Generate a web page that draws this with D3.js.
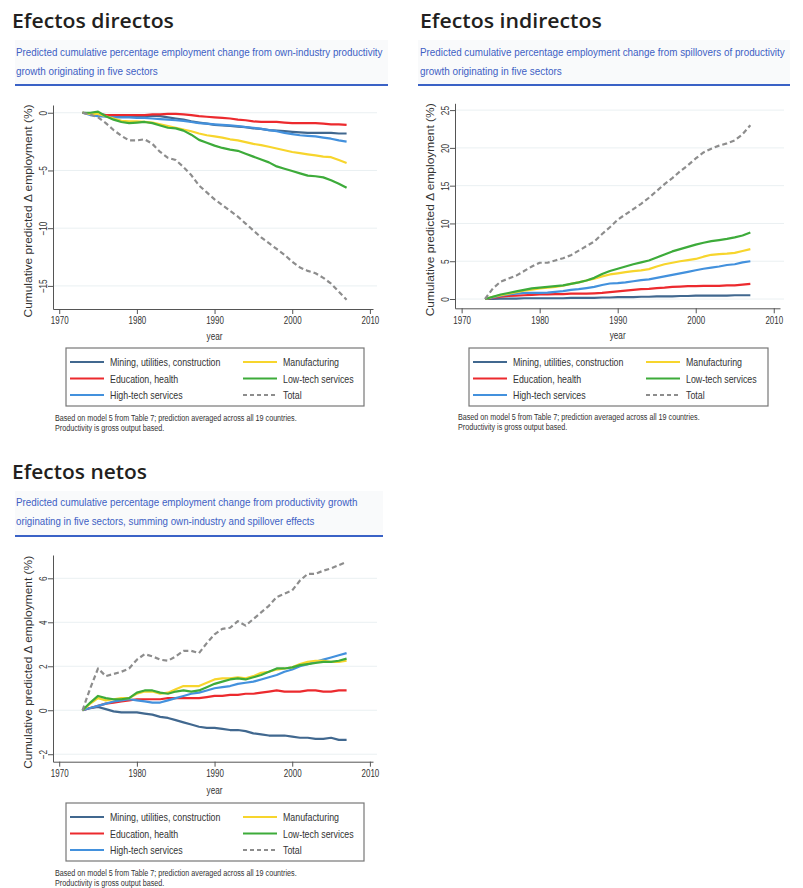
<!DOCTYPE html>
<html>
<head>
<meta charset="utf-8">
<script src="https://cdn.jsdelivr.net/npm/d3@7/dist/d3.min.js"></script>
<style>
  body { margin: 0; background: #fff; }
  svg { display: block; }
</style>
</head>
<body>
<svg id="chart" width="803" height="888"></svg>
<script>
// ---- data -------------------------------------------------------------
const years = [1973,1974,1975,1976,1977,1978,1979,1980,1981,1982,1983,1984,1985,1986,1987,1988,1989,1990,
               1991,1992,1993,1994,1995,1996,1997,1998,1999,2000,2001,2002,2003,2004,2005,2006,2007];

const seriesNames = ["Mining, utilities, construction", "Education, health", "High-tech services",
                     "Manufacturing", "Low-tech services", "Total"];
const seriesColors = ["#41688f", "#ec2a2e", "#4391dd", "#f7d52d", "#3dab3a", "#8d8d8d"];

const xTicks = [1970, 1980, 1990, 2000, 2010];

// Direct (own-industry) effects, % cumulative
const directMining = [0,-0.05,-0.1,-0.2,-0.25,-0.3,-0.3,-0.3,-0.3,-0.25,-0.3,-0.4,-0.5,-0.6,-0.75,-0.85,-0.95,-1.05,
  -1.1,-1.15,-1.2,-1.25,-1.35,-1.4,-1.5,-1.55,-1.6,-1.65,-1.7,-1.75,-1.75,-1.75,-1.75,-1.8,-1.8];
const directEducation = [0,-0.1,-0.15,-0.2,-0.2,-0.2,-0.2,-0.2,-0.2,-0.15,-0.15,-0.1,-0.1,-0.15,-0.2,-0.3,-0.35,-0.4,
  -0.45,-0.5,-0.6,-0.65,-0.75,-0.8,-0.8,-0.8,-0.85,-0.9,-0.9,-0.9,-0.9,-0.95,-1.0,-1.0,-1.05];
const directHighTech = [0,-0.2,-0.3,-0.35,-0.4,-0.4,-0.4,-0.45,-0.45,-0.5,-0.55,-0.6,-0.65,-0.7,-0.8,-0.9,-0.95,-1.0,
  -1.05,-1.1,-1.15,-1.25,-1.3,-1.4,-1.5,-1.6,-1.75,-1.85,-1.95,-2.0,-2.05,-2.15,-2.25,-2.4,-2.5];
const directManufacturing = [0,-0.1,-0.1,-0.3,-0.5,-0.7,-0.75,-0.75,-0.8,-0.85,-1.0,-1.15,-1.3,-1.45,-1.6,-1.8,-1.95,-2.05,
  -2.15,-2.3,-2.4,-2.55,-2.7,-2.8,-2.95,-3.1,-3.25,-3.4,-3.5,-3.6,-3.7,-3.8,-3.85,-4.1,-4.35];
const directLowTech = [0,0,0.1,-0.3,-0.6,-0.8,-0.9,-0.85,-0.8,-0.9,-1.1,-1.3,-1.35,-1.55,-1.9,-2.35,-2.6,-2.85,
  -3.05,-3.2,-3.3,-3.55,-3.8,-4.05,-4.3,-4.65,-4.85,-5.05,-5.25,-5.45,-5.5,-5.6,-5.85,-6.15,-6.5];
const directTotal = [0,-0.15,-0.4,-0.9,-1.5,-2.0,-2.4,-2.4,-2.3,-2.7,-3.4,-3.9,-4.1,-4.7,-5.4,-6.3,-6.9,-7.5,
  -8.0,-8.5,-9.0,-9.6,-10.2,-10.8,-11.3,-11.8,-12.3,-12.9,-13.4,-13.7,-13.9,-14.3,-14.8,-15.5,-16.2];

// Indirect (spillover) effects, % cumulative
const indirectMining = [0,0,0.05,0.05,0.05,0.1,0.1,0.1,0.1,0.1,0.1,0.15,0.15,0.15,0.15,0.2,0.2,0.25,
  0.25,0.25,0.3,0.3,0.35,0.35,0.35,0.4,0.4,0.45,0.45,0.45,0.45,0.45,0.5,0.5,0.5];
const indirectEducation = [0,0.15,0.3,0.4,0.45,0.5,0.55,0.6,0.6,0.65,0.65,0.7,0.7,0.7,0.75,0.8,0.9,1.0,
  1.1,1.2,1.3,1.35,1.45,1.5,1.6,1.65,1.7,1.7,1.75,1.75,1.75,1.8,1.8,1.9,2.0];
const indirectHighTech = [0,0.2,0.45,0.6,0.7,0.8,0.8,0.8,0.85,0.95,1.05,1.2,1.3,1.45,1.6,1.85,2.05,2.1,
  2.2,2.35,2.5,2.6,2.8,3.0,3.2,3.4,3.6,3.8,4.0,4.15,4.3,4.5,4.6,4.85,5.0];
const indirectManufacturing = [0,0.3,0.5,0.7,0.9,1.1,1.25,1.4,1.5,1.6,1.75,2.0,2.2,2.45,2.7,3.0,3.25,3.4,
  3.55,3.7,3.8,3.95,4.3,4.6,4.8,5.0,5.15,5.3,5.6,5.85,5.95,6.0,6.1,6.35,6.6];
const indirectLowTech = [0,0.3,0.6,0.8,1.0,1.2,1.4,1.5,1.6,1.7,1.8,2.0,2.2,2.45,2.8,3.3,3.7,4.0,
  4.3,4.6,4.85,5.1,5.5,5.9,6.3,6.6,6.9,7.2,7.45,7.65,7.8,7.95,8.15,8.4,8.8];
const indirectTotal = [0,1.4,2.3,2.7,3.1,3.7,4.3,4.8,4.8,5.1,5.4,5.8,6.4,7.0,7.6,8.6,9.5,10.5,
  11.2,11.9,12.6,13.4,14.3,15.2,16.0,16.9,17.7,18.6,19.4,19.9,20.3,20.6,21.0,21.8,23.0];

// Net effects (own-industry + spillover), % cumulative
const netMining = [0,0.1,0.15,0.05,-0.05,-0.1,-0.1,-0.1,-0.15,-0.2,-0.3,-0.35,-0.45,-0.55,-0.65,-0.75,-0.8,-0.8,
  -0.85,-0.9,-0.9,-0.95,-1.05,-1.1,-1.15,-1.15,-1.15,-1.2,-1.25,-1.25,-1.3,-1.3,-1.25,-1.35,-1.35];
const netEducation = [0,0.1,0.2,0.3,0.35,0.4,0.45,0.5,0.5,0.5,0.5,0.55,0.55,0.55,0.55,0.55,0.6,0.65,
  0.65,0.7,0.7,0.75,0.75,0.8,0.85,0.9,0.85,0.85,0.85,0.9,0.9,0.85,0.85,0.9,0.9];
const netHighTech = [0,0.1,0.2,0.3,0.4,0.45,0.5,0.45,0.4,0.35,0.35,0.45,0.55,0.65,0.75,0.8,0.9,1.0,
  1.05,1.1,1.2,1.25,1.3,1.4,1.5,1.6,1.75,1.85,2.0,2.1,2.2,2.3,2.4,2.5,2.6];
const netManufacturing = [0,0.3,0.55,0.45,0.5,0.55,0.55,0.75,0.85,0.85,0.75,0.8,0.95,1.1,1.1,1.1,1.25,1.4,
  1.45,1.45,1.5,1.45,1.55,1.7,1.75,1.85,1.9,1.95,2.1,2.2,2.25,2.25,2.2,2.2,2.25];
const netLowTech = [0,0.35,0.65,0.55,0.5,0.5,0.55,0.8,0.9,0.9,0.8,0.75,0.85,0.9,0.85,0.9,1.05,1.2,
  1.3,1.4,1.45,1.4,1.5,1.6,1.75,1.9,1.9,1.95,2.05,2.1,2.15,2.2,2.2,2.25,2.35];
const netTotal = [0,1.0,1.9,1.55,1.65,1.75,1.9,2.3,2.55,2.45,2.3,2.25,2.45,2.7,2.7,2.6,3.05,3.45,
  3.7,3.75,4.05,3.85,4.15,4.45,4.75,5.15,5.3,5.45,5.9,6.2,6.2,6.35,6.45,6.6,6.75];

const directTicks = [0, -5, -10, -15];
const indirectTicks = [0, 5, 10, 15, 20, 25];
const netTicks = [-2, 0, 2, 4, 6];

const yTitle = "Cumulative predicted \u0394 employment (%)";
const noteLines = ["Based on model 5 from Table 7; prediction averaged across all 19 countries.",
                   "Productivity is gross output based."];

// ---- layout -------------------------------------------------------------
const panels = [
  {
    title: "Efectos directos", left: 12, titleY: 28, titleW: 162,
    sub: ["Predicted cumulative percentage employment change from own-industry productivity",
          "growth originating in five sectors"],
    subX: 16, subY: [56, 75], subW: [367, 142], rule: [15, 388, 85],
    series: [directMining, directEducation, directHighTech, directManufacturing, directLowTech, directTotal],
    ticks: directTicks, xDomain: [1969.2, 2010.4], xRange: [53, 373],
    yDomain: [-17.0, 0.67], yRange: [309, 105], yTitleX: 32,
    yearY: 340, legend: [66, 348, 298], noteX: 55, noteY: 421
  },
  {
    title: "Efectos indirectos", left: 420, titleY: 28, titleW: 182,
    sub: ["Predicted cumulative percentage employment change from spillovers of productivity",
          "growth originating in five sectors"],
    subX: 420, subY: [56, 75], subW: [365, 142], rule: [418, 790, 85],
    series: [indirectMining, indirectEducation, indirectHighTech, indirectManufacturing, indirectLowTech, indirectTotal],
    ticks: indirectTicks, xDomain: [1969.15, 2010.8], xRange: [455, 780],
    yDomain: [-1.23, 25.9], yRange: [308.3, 103.3], yTitleX: 434,
    yearY: 339, legend: [469, 348, 299], noteX: 458, noteY: 420
  },
  {
    title: "Efectos netos", left: 12, titleY: 479, titleW: 135,
    sub: ["Predicted cumulative percentage employment change from productivity growth",
          "originating in five sectors, summing own-industry and spillover effects"],
    subX: 16, subY: [506, 525], subW: [342, 299], rule: [15, 383, 536],
    series: [netMining, netEducation, netHighTech, netManufacturing, netLowTech, netTotal],
    ticks: netTicks, xDomain: [1969.2, 2010.4], xRange: [53, 373],
    yDomain: [-2.34, 7.06], yRange: [761.7, 555], yTitleX: 32,
    yearY: 794, legend: [66, 803, 298], noteX: 55, noteY: 876
  }
];

const sans = "'Liberation Sans', Arial, sans-serif";
const svg = d3.select("#chart");

// Writes text squeezed horizontally (narrow face look); width fixes the final
// width, otherwise the face is condensed by a fixed ratio.
function label(parent, x, y, str, opt) {
  const o = Object.assign({ size: 11, fill: "#333", anchor: "start", rotate: 0, width: null, ratio: 0.82,
                            family: sans, weight: 400 }, opt);
  const g = parent.append("g");
  const t = g.append("text")
    .attr("font-family", o.family).attr("font-size", o.size).attr("font-weight", o.weight)
    .attr("fill", o.fill).attr("text-anchor", o.anchor)
    .text(str);
  const natural = t.node().getComputedTextLength();
  const k = o.width ? o.width / natural : o.ratio;
  g.attr("transform", `translate(${x},${y}) rotate(${o.rotate}) scale(${k},1)`);
  return t;
}

function drawPanel(p) {
  const g = svg.append("g");

  // heading
  label(g, p.left, p.titleY, p.title, {
    family: "'Open Sans', Lato, sans-serif", weight: 600, size: 20, fill: "#231f20", width: p.titleW
  });

  // subtitle band
  g.append("rect")
    .attr("x", p.rule[0]).attr("y", p.rule[2] - 45)
    .attr("width", p.rule[1] - p.rule[0]).attr("height", 45)
    .attr("fill", "#f9fafb");
  p.sub.forEach((s, i) => {
    label(g, p.subX, p.subY[i], s, { size: 11, fill: "#3d5fc4", width: p.subW[i] });
  });
  g.append("line")
    .attr("x1", p.rule[0]).attr("x2", p.rule[1])
    .attr("y1", p.rule[2]).attr("y2", p.rule[2])
    .attr("stroke", "#3a62c6").attr("stroke-width", 2.2);

  const x = d3.scaleLinear().domain(p.xDomain).range(p.xRange);
  const y = d3.scaleLinear().domain(p.yDomain).range(p.yRange);

  // horizontal grid
  g.append("g").selectAll("line").data(p.ticks).join("line")
    .attr("x1", p.xRange[0]).attr("x2", p.xRange[1] + 4)
    .attr("y1", d => y(d)).attr("y2", d => y(d))
    .attr("stroke", "#eaf0f2").attr("stroke-width", 1);

  // axes
  const xg = g.append("g")
    .attr("transform", `translate(0,${p.yRange[0]})`)
    .call(d3.axisBottom(x).tickValues(xTicks).tickSize(5).tickSizeOuter(0).tickFormat(d3.format("d")));
  const yg = g.append("g")
    .attr("transform", `translate(${p.xRange[0]},0)`)
    .call(d3.axisLeft(y).tickValues(p.ticks).tickSize(5).tickSizeOuter(0).tickFormat(d3.format("d")));
  [xg, yg].forEach(a => {
    a.select(".domain").attr("stroke", "#555");
    a.selectAll(".tick line").attr("stroke", "#555");
    a.selectAll("text").attr("font-family", sans).attr("font-size", 10.5).attr("fill", "#333");
  });
  xg.selectAll(".tick text").attr("transform", "scale(0.76,1)");
  yg.selectAll(".tick text")
    .attr("x", 0).attr("y", -6).attr("dy", 0)
    .attr("text-anchor", "middle")
    .attr("transform", "rotate(-90) scale(0.78,1)");

  // axis titles
  const ymid = (p.yRange[0] + p.yRange[1]) / 2;
  label(g, p.yTitleX, ymid + 4, yTitle, { size: 11.5, anchor: "middle", rotate: -90, width: 213 });
  label(g, x(1990), p.yearY, "year", { size: 10.5, anchor: "middle", ratio: 0.78 });

  // lines
  const line = d3.line().x((d, i) => x(years[i])).y(d => y(d));
  p.series.forEach((vals, k) => {
    g.append("path")
      .datum(vals)
      .attr("d", line)
      .attr("fill", "none")
      .attr("stroke", seriesColors[k])
      .attr("stroke-width", 2.2)
      .attr("stroke-linejoin", "round")
      .attr("stroke-dasharray", k === 5 ? "5,3" : null);
  });

  // legend
  const [lx, ly, lw] = p.legend;
  const lg = g.append("g").attr("transform", `translate(${lx},${ly})`);
  lg.append("rect").attr("width", lw).attr("height", 58)
    .attr("fill", "#fff").attr("stroke", "#777").attr("stroke-width", 1.2);
  seriesNames.forEach((name, k) => {
    const col = k < 3 ? 0 : 1, row = k % 3;
    const ox = col === 0 ? 4 : 177, oy = 14 + row * 16.5;
    lg.append("line")
      .attr("x1", ox).attr("x2", ox + 34).attr("y1", oy).attr("y2", oy)
      .attr("stroke", seriesColors[k]).attr("stroke-width", 2.2)
      .attr("stroke-dasharray", k === 5 ? "4,3" : null);
    label(lg, ox + 40, oy + 4.3, name, { size: 11.8, ratio: 0.75 });
  });

  // note
  noteLines.forEach((s, i) => {
    label(g, p.noteX, p.noteY + i * 9.5, s, { size: 9, ratio: 0.8 });
  });
}

panels.forEach(drawPanel);
</script>
</body>
</html>
